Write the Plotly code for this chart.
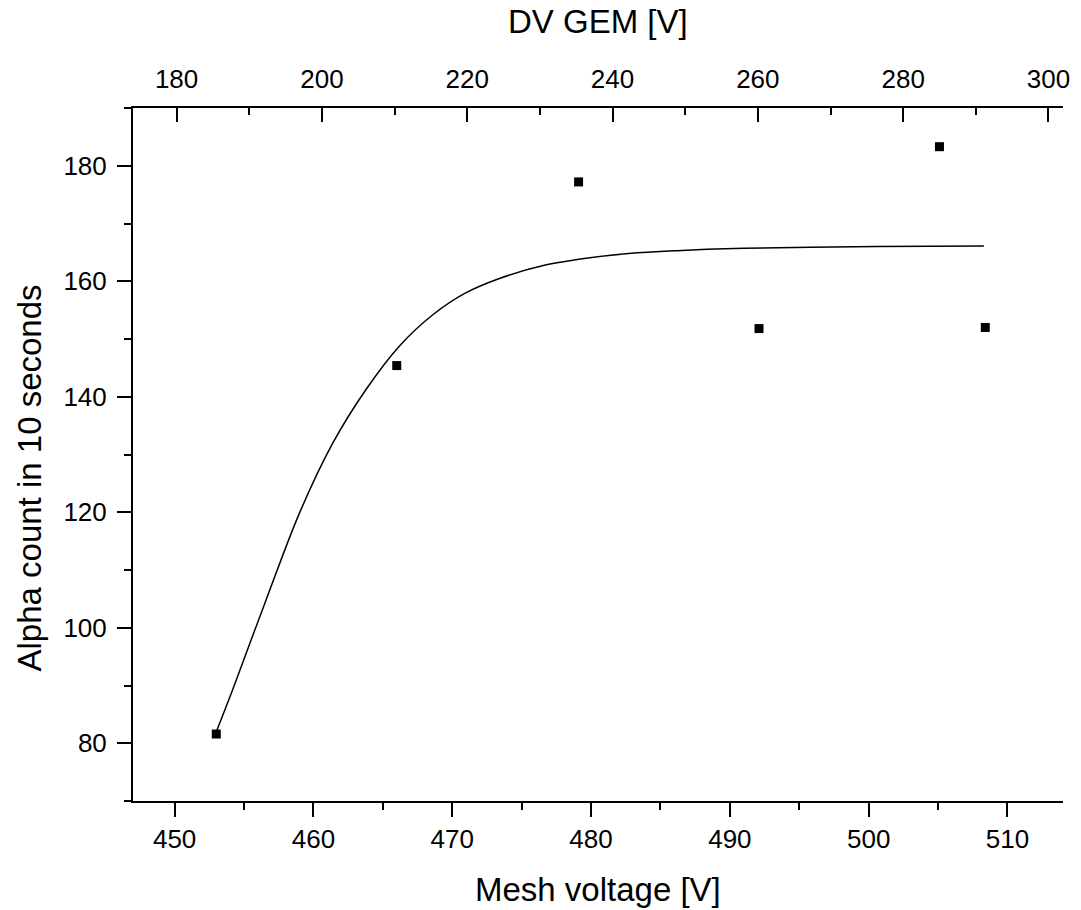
import plotly.graph_objects as go

# Measured data points
mesh_voltage = [453.0, 466.0, 479.1, 492.1, 505.1, 508.4]
dv_gem = [185.5, 210.3, 235.1, 260.0, 284.8, 291.1]
alpha_count = [81.6, 145.4, 177.2, 151.8, 183.3, 152.0]

# Fit curve
fit_x = [453.0, 454.2, 456.6, 459.0, 461.4, 463.8, 466.2, 468.6, 470.9, 473.3,
         476.7, 479.1, 482.7, 486.2, 491.0, 495.8, 500.6, 508.3]
fit_y = [82.0, 89.4, 104.9, 119.9, 132.0, 141.3, 148.8, 154.2, 157.9, 160.4,
         162.8, 163.8, 164.8, 165.3, 165.7, 165.9, 166.0, 166.1]

x_range = [447, 514]
x2_range = [174, 302]
y_range = [70, 190]

FONT = "Liberation Sans, Arial, Helvetica, sans-serif"

fig = go.Figure()
fig.add_trace(go.Scatter(x=fit_x, y=fit_y, mode="lines",
                         line=dict(color="black", width=1.5, shape="spline", smoothing=1.0),
                         showlegend=False, hoverinfo="skip"))
fig.add_trace(go.Scatter(x=mesh_voltage, y=alpha_count, mode="markers",
                         marker=dict(symbol="square", size=9, color="black"), showlegend=False))
# same points against the top (DV GEM) axis, invisible, so that the top axis is drawn
fig.add_trace(go.Scatter(x=dv_gem, y=alpha_count, mode="markers", xaxis="x2",
                         marker=dict(size=1, opacity=0), showlegend=False, hoverinfo="skip"))

axis_common = dict(showgrid=False, zeroline=False, showline=True, linecolor="black", linewidth=2,
                   tickcolor="black", tickwidth=2, tickfont=dict(family=FONT, size=26, color="black"))

fig.update_layout(
    width=1081, height=910,
    margin=dict(l=133, r=11, t=108, b=109),
    paper_bgcolor="white", plot_bgcolor="white",
    xaxis=dict(range=x_range, tick0=450, dtick=10, ticks="outside", ticklen=14,
               minor=dict(dtick=5, tick0=450, ticks="outside", ticklen=7, tickwidth=2, tickcolor="black"),
               **axis_common),
    xaxis2=dict(range=x2_range, overlaying="x", side="top", anchor="y", tick0=180, dtick=20,
                ticks="inside", ticklen=14, ticklabelstandoff=8,
                minor=dict(dtick=10, tick0=180, ticks="inside", ticklen=7, tickwidth=2, tickcolor="black"),
                **axis_common),
    yaxis=dict(range=y_range, tick0=80, dtick=20, ticks="outside", ticklen=14, ticklabelstandoff=5,
               minor=dict(dtick=10, tick0=80, ticks="outside", ticklen=7, tickwidth=2, tickcolor="black"),
               **axis_common),
    annotations=[
        dict(text="Mesh voltage [V]", xref="paper", yref="paper", x=0.5, y=-0.1276,
             xanchor="center", yanchor="middle", showarrow=False,
             font=dict(family=FONT, size=33, color="black")),
        dict(text="DV GEM [V]", xref="paper", yref="paper", x=0.5, y=1.125,
             xanchor="center", yanchor="middle", showarrow=False,
             font=dict(family=FONT, size=33, color="black")),
        dict(text="Alpha count in 10 seconds", xref="paper", yref="paper", x=-0.1117, y=0.4655,
             xanchor="center", yanchor="middle", showarrow=False, textangle=-90,
             font=dict(family=FONT, size=33, color="black")),
    ],
)

fig.write_html("out.html", config={"displayModeBar": False},
               post_script="document.body.style.margin='0';document.body.style.overflow='hidden';")
